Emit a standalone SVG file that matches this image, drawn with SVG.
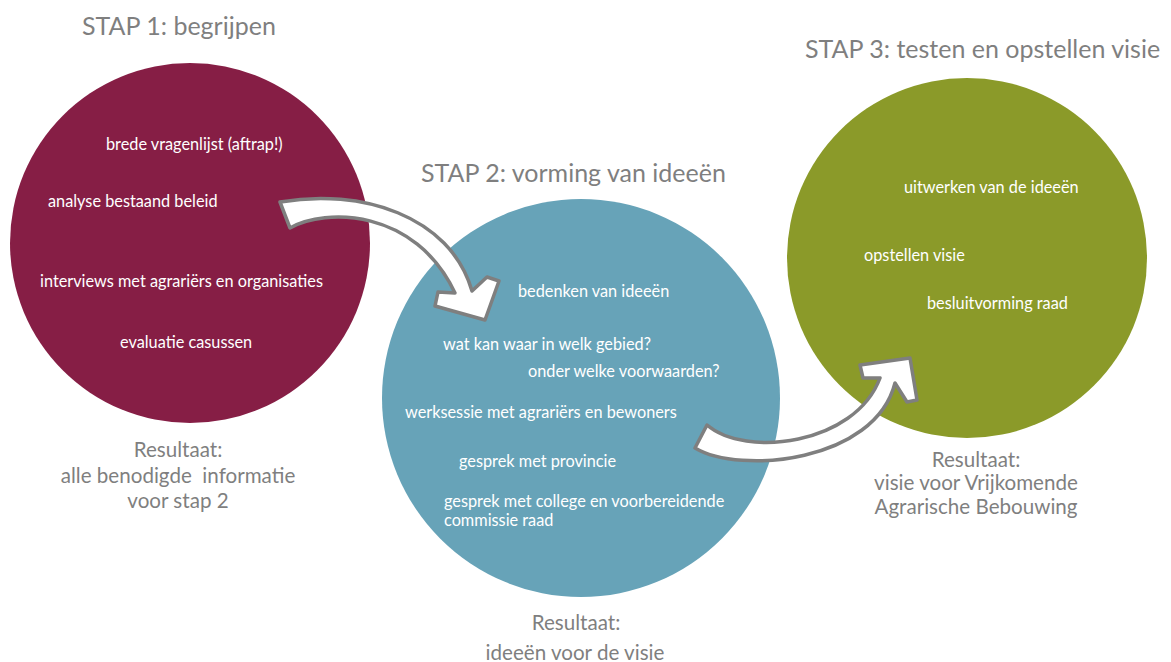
<svg xmlns="http://www.w3.org/2000/svg" width="1171" height="662" viewBox="0 0 1171 662">
<style>
.title{font-family:Lato,"Liberation Sans",sans-serif;font-size:25px;fill:#7f7f7f}
.item{font-family:Lato,"Liberation Sans",sans-serif;font-size:16.3px;fill:#ffffff}
.res{font-family:Lato,"Liberation Sans",sans-serif;font-size:20.6px;fill:#7f7f7f;text-anchor:middle}
.arrow{fill:#ffffff;stroke:#7f7f7f;stroke-width:3.5;stroke-linejoin:round}
</style>
<rect width="1171" height="662" fill="#ffffff"/>
<g id="stap1">
<circle cx="190" cy="243" r="180" fill="#861E45"/>
<text class="title" x="82" y="35">STAP 1: begrijpen</text>
<text class="item" x="106" y="150">brede vragenlijst (aftrap!)</text>
<text class="item" x="48" y="207">analyse bestaand beleid</text>
<text class="item" x="40" y="287">interviews met agrariërs en organisaties</text>
<text class="item" x="120" y="348">evaluatie casussen</text>
<text class="res" x="178" y="457">Resultaat:</text>
<text class="res" x="178" y="483" xml:space="preserve">alle benodigde  informatie</text>
<text class="res" x="178" y="508">voor stap 2</text>
</g>
<g id="stap2">
<circle cx="581" cy="398" r="199" fill="#67A3B8"/>
<text class="title" x="421" y="182">STAP 2: vorming van ideeën</text>
<text class="item" x="518" y="297">bedenken van ideeën</text>
<text class="item" x="443" y="350">wat kan waar in welk gebied?</text>
<text class="item" x="528" y="377">onder welke voorwaarden?</text>
<text class="item" x="405" y="418">werksessie met agrariërs en bewoners</text>
<text class="item" x="459" y="467">gesprek met provincie</text>
<text class="item" x="444" y="507">gesprek met college en voorbereidende</text>
<text class="item" x="444" y="526">commissie raad</text>
<text class="res" x="576" y="630">Resultaat:</text>
<text class="res" x="575" y="660">ideeën voor de visie</text>
</g>
<g id="stap3">
<circle cx="967" cy="258" r="180" fill="#8B9A29"/>
<text class="title" x="805" y="58">STAP 3: testen en opstellen visie</text>
<text class="item" x="904" y="193">uitwerken van de ideeën</text>
<text class="item" x="864" y="261">opstellen visie</text>
<text class="item" x="927" y="309">besluitvorming raad</text>
<text class="res" x="976" y="467">Resultaat:</text>
<text class="res" x="976" y="490">visie voor Vrijkomende</text>
<text class="res" x="976" y="514">Agrarische Bebouwing</text>
</g>
<g id="connectors">
<path id="arrow1" class="arrow" d="M280,202 C360,188 450,215 472,291 L487,277 L499,281 L485,320 L435,306 L438,292 L455,293 C415,208 325,208 290,228 Z"/>
<path id="arrow2" class="arrow" d="M707,425 C745,458 855,445 880,378 L863,378 L860,365 L910,358 L917,400 L907,402 L895,383 C875,462 740,475 695,448 Z"/>
</g>
</svg>
